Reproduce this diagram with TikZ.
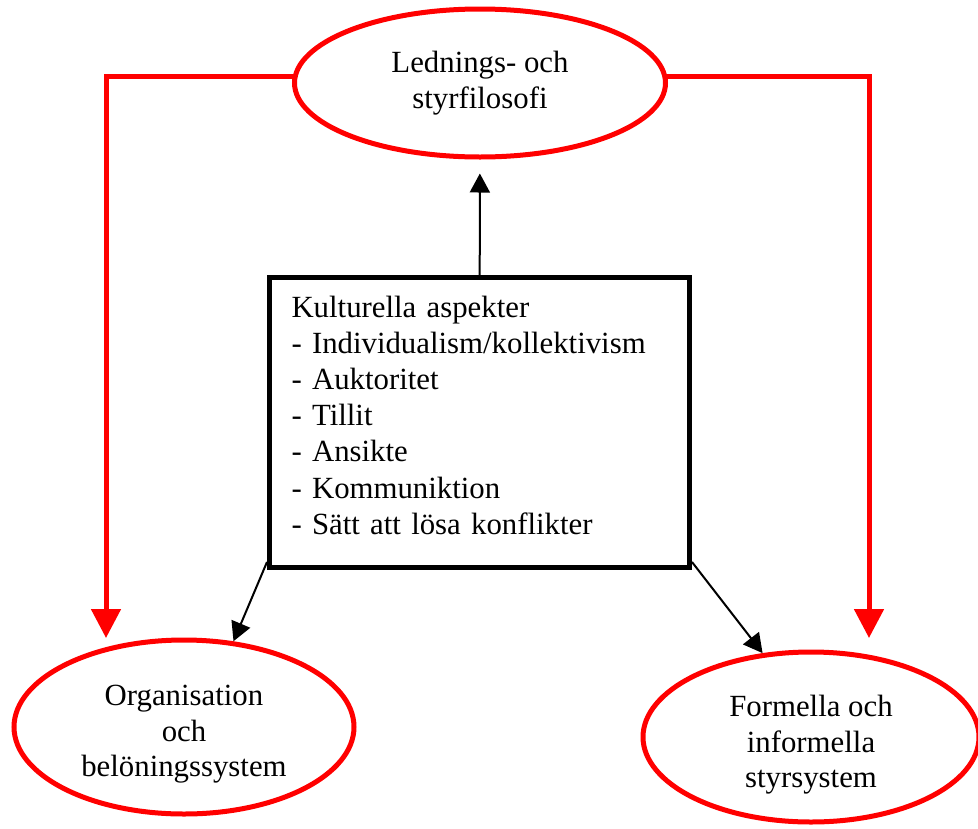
\documentclass[tikz,border=0pt]{standalone}
\usepackage{fontspec}
\setmainfont{Liberation Serif}
\usetikzlibrary{positioning,arrows.meta,shapes.geometric}

\begin{document}
\begin{tikzpicture}[
  x=1pt, y=-1pt,
  font=\fontsize{30.8}{35.5}\selectfont,
  oval/.style={ellipse, draw=red, line width=5pt, align=center, inner sep=0pt},
  frame/.style={rectangle, draw=black, line width=5pt, align=left,
                font=\fontsize{30.8}{36.2}\selectfont,
                text width=376pt, inner xsep=22pt, minimum height=290pt},
  redarrow/.style={-{Triangle[length=29pt,width=29pt]}, draw=red, line width=5pt},
  arrow/.style={-{Triangle[length=19pt,width=20pt]}, draw=black, line width=2pt},
]
\useasboundingbox (0,0) rectangle (978,828);

% ---- ovals and the central box ----
\node[oval, minimum width=371pt, minimum height=148pt] (filosofi) at (480,83)
      {Lednings- och\\styrfilosofi};
\node[frame] (kultur) at (479.5,422.5)
      {Kulturella aspekter\\- Individualism/kollektivism\\- Auktoritet\\- Tillit\\- Ansikte\\- Kommuniktion\\- Sätt att lösa konflikter\rule[-15pt]{0pt}{0pt}};
\node[oval, minimum width=340pt, minimum height=174pt] (org) at (184,727)
      {\rule{0pt}{35pt}Organisation\\och\\belöningssystem};
\node[oval, minimum width=336pt, minimum height=170pt] (styr) at (811,737)
      {\rule{0pt}{37pt}Formella och\\informella\\styrsystem};

% ---- red connectors ----
\coordinate (orgtip)  at (106,638);
\coordinate (styrtip) at (869,638);
\draw[redarrow] (filosofi.178) -| (orgtip);
\draw[redarrow] (filosofi.2)   -| (styrtip);

% ---- black arrows from the box ----
\draw[arrow, shorten >=14pt] (kultur) -- (filosofi);
\draw[arrow] ([yshift=8pt]kultur.south west) -- (org.60);
\draw[arrow] ([yshift=8pt]kultur.south east) -- (styr.120);

\end{tikzpicture}
\end{document}
